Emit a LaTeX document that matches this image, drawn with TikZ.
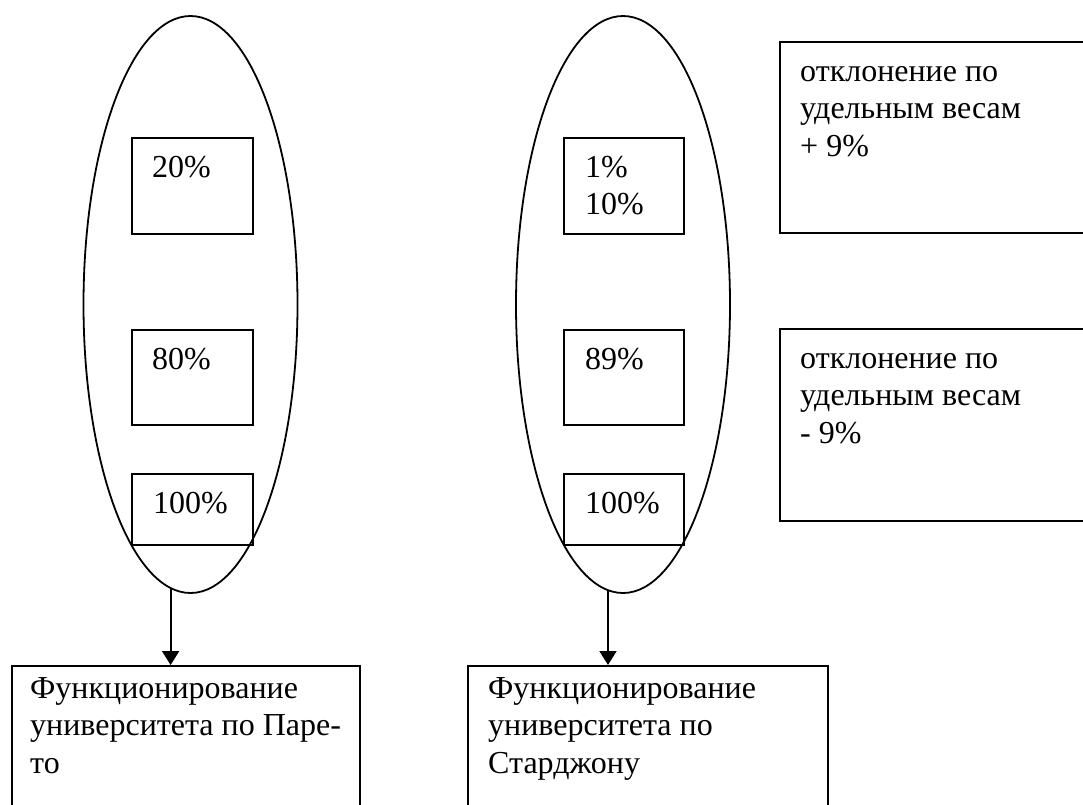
\documentclass[tikz,border=0pt]{standalone}
\usepackage{fontspec}
\setmainfont{Liberation Serif}
\newfontfamily\labelfont{Liberation Serif}
\usetikzlibrary{shapes.geometric, arrows.meta}
\newcommand{\boxlines}[1]{\parbox[t]{340pt}{\raggedright #1}}

\begin{document}
\begin{tikzpicture}[x=1pt,y=-1pt,
	frame/.style={draw,line width=1.8pt,inner sep=0pt,anchor=north west},
	oval/.style={ellipse,draw,line width=1.8pt,inner sep=0pt,minimum width=214pt,minimum height=577pt},
	txt/.style={anchor=base west,inner sep=0pt,font=\labelfont\fontsize{32}{37.5}\selectfont},
	arr/.style={-{Triangle[length=14pt,width=17pt]},line width=1.8pt}]
	\useasboundingbox (0,0) rectangle (1083,804);
	\clip (0,0) rectangle (1083,804);
	
	%ovals
	\node[oval] (e1) at (190.5,304.5) {};
	\node[oval] (e2) at (623,304.5) {};
	
	%inner boxes
	\node[frame,minimum width=121pt,minimum height=96pt] (p20)  at (131,137) {};
	\node[frame,minimum width=121pt,minimum height=95pt] (p80)  at (131,329) {};
	\node[frame,minimum width=121pt,minimum height=71pt] (p100) at (131,473) {};
	\node[frame,minimum width=120pt,minimum height=96pt] (s10)  at (563,137) {};
	\node[frame,minimum width=120pt,minimum height=95pt] (s89)  at (563,329) {};
	\node[frame,minimum width=120pt,minimum height=71pt] (s100) at (563,473) {};
	
	%outer boxes
	\node[frame,minimum width=400pt,minimum height=191pt] (plus)   at (779,41)  {};
	\node[frame,minimum width=400pt,minimum height=192pt] (minus)  at (779,328) {};
	\node[frame,minimum width=348pt,minimum height=250pt] (pareto) at (11,665)  {};
	\node[frame,minimum width=360pt,minimum height=250pt] (sturg)  at (467,665) {};
	
	%labels
	\node[txt] (p20t)  at ([shift={(21,40)}]p20.north west)  {20\%};
	\node[txt] (p80t)  at ([shift={(21,40)}]p80.north west)  {80\%};
	\node[txt] (p100t) at ([shift={(22,40)}]p100.north west) {100\%};
	\node[txt] (s10t)  at ([shift={(22,40)}]s10.north west)  {\boxlines{1\%\\10\%}};
	\node[txt] (s89t)  at ([shift={(22,40)}]s89.north west)  {89\%};
	\node[txt] (s100t) at ([shift={(22,40)}]s100.north west) {100\%};
	\node[txt] (plust)  at ([shift={(21,40)}]plus.north west)  {\boxlines{отклонение по\\удельным весам\\+ 9\%}};
	\node[txt] (minust) at ([shift={(21,40)}]minus.north west) {\boxlines{отклонение по\\удельным весам\\- 9\%}};
	\node[txt] (paretot) at ([shift={(19,33)}]pareto.north west) {\boxlines{Функционирование\\университета по Паре-\\то}};
	\node[txt] (sturgt)  at ([shift={(21,33)}]sturg.north west)  {\boxlines{Функционирование\\университета по\\Старджону}};
	
	%arrows
	\draw[arr] (e1.266.6) -- (e1.266.6 |- pareto.north);	%oval--Pareto
	\draw[arr] (e2.267.8) -- (e2.267.8 |- sturg.north);		%oval--Sturgeon
\end{tikzpicture}
\end{document}
